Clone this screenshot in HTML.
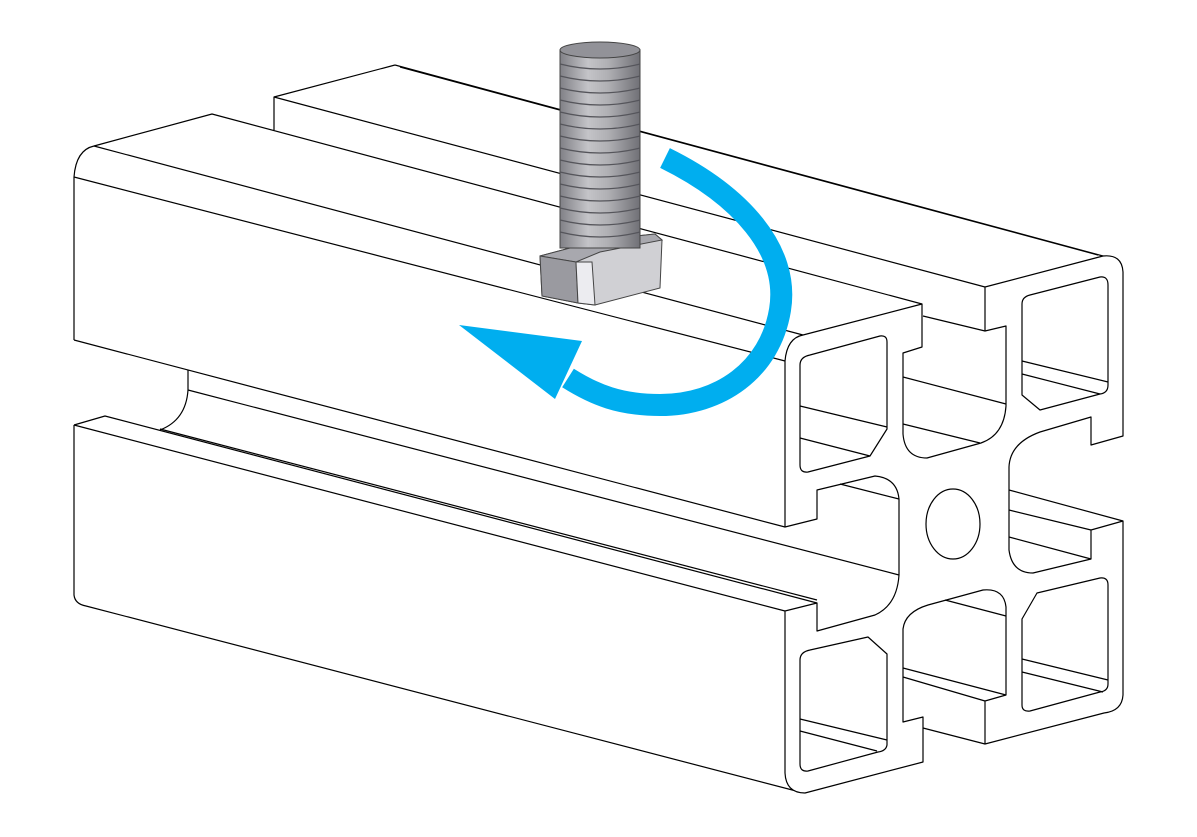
<!DOCTYPE html>
<html><head><meta charset="utf-8"><style>
html,body{margin:0;padding:0;background:#fff;}
svg{display:block;}
</style></head><body>
<svg width="1197" height="837" viewBox="0 0 1197 837" xmlns="http://www.w3.org/2000/svg">
<defs>
<linearGradient id="sh" x1="0" x2="1" y1="0" y2="0">
<stop offset="0" stop-color="#808086"/><stop offset="0.35" stop-color="#c4c4c8"/><stop offset="0.6" stop-color="#b0b0b4"/><stop offset="1" stop-color="#707076"/>
</linearGradient>
</defs>
<g fill="none" stroke="#000" stroke-width="1.2" stroke-linejoin="round">
<path d="M274,130 L274,97 L395,65"/>
<path d="M395,65 L1103,256"/>
<path d="M400,67 L1098,255"/>
<path d="M274,97 L985,287"/>
<path d="M74,340 L74,177 Q76,150 94,146 L212,114 L922,304"/>
<path d="M94,146 L803,335"/>
<path d="M74,177 L785,361"/>
<path d="M74,340 L785,527"/>
<path d="M188,370 L188,390 Q186,420 160,430"/>
<path d="M188,390 L899,575"/>
<path d="M74,425 L105,416 L817,603"/>
<path d="M160,429 L817,600"/>
<path d="M74,425 L785,611"/>
<path d="M74,425 L74,595 Q75,604 86,606 L800,792"/>
<path fill="#fff" d="M785,527 L785,361 Q787,338 803,335 L922,304 L922,347 L903,353 L903,434 Q905,458 927,458 L981,443 Q1004,435 1006,406 L1006,326 L985,331 L985,287 L1103,256 Q1122,254 1123,272 L1123,436 L1091,445 L1091,417 L1040,432 Q1010,443 1009,467 L1009,550 Q1012,573 1033,573 L1091,559 L1091,530 L1123,521 L1123,695 Q1122,711 1104,713 L985,744 L985,701 L1006,695 L1006,607 Q1004,588 983,590 L928,605 Q905,612 903,629 L903,722 L923,717 L923,762 L805,793 Q786,793 785,773 L785,611 L817,603 L817,631 L875,615 Q897,605 899,575 L899,499 Q897,478 875,476 L817,490 L817,519 Z"/>
<path d="M800,365 Q800,357 810,355 L880,336 Q887,335 887,342 L887,429 L870,456 L808,472 Q800,473 800,465 Z"/>
<path d="M1022,304 Q1022,297 1030,295 L1100,277 Q1108,276 1108,285 L1108,385 Q1108,393 1100,394 L1040,410 L1022,395 Z"/>
<path d="M800,660 Q800,652 810,650 L868,637 L887,654 L887,745 Q886,751 878,752 L808,771 Q800,772 800,764 Z"/>
<path d="M1022,619 L1037,593 L1100,578 Q1108,577 1108,585 L1108,684 Q1108,691 1100,692 L1030,711 Q1022,712 1022,705 Z"/>
<ellipse cx="953" cy="524" rx="27" ry="35"/>
<path d="M800,406 L887,427 M800,438 L870,456"/>
<path d="M1022,361 L1108,382 M1022,374 L1100,394"/>
<path d="M800,719 L887,740 M800,731 L877,751"/>
<path d="M1022,659 L1108,680 M1022,672 L1103,692"/>
<path d="M903,377 L1006,404 M903,424 L980,443"/>
<path d="M1009,490 L1123,521 M1009,510 L1091,530 M1009,537 L1091,559"/>
<path d="M840,484 L899,499"/>
<path d="M945,600 L1006,616 M903,668 L1006,695 M903,677 L985,701"/>
<path d="M923,728 L985,744 M923,316 L985,331"/>
</g>
<g stroke="#444" stroke-width="1">
<polygon points="540,256 600,240 655,234 662,240 660,288 595,305 578,303 542,296" fill="#d0d0d4"/>
<polygon points="540,256 600,240 655,234 662,240 600,252 576,262" fill="#a8a8ae"/>
<polygon points="540,256 576,262 578,303 542,296" fill="#9a9aa0"/>
<polygon points="576,262 592,262 595,305 578,303" fill="#ececf0"/>
<rect x="560" y="50" width="80" height="198" fill="url(#sh)"/>
<ellipse cx="600" cy="50" rx="40" ry="8" fill="#929298"/>
</g>
<g fill="none" stroke="#55555b" stroke-width="1.2">
<path d="M560,64 Q600,74 640,64 M560,76 Q600,86 640,76 M560,88 Q600,98 640,88 M560,100 Q600,110 640,100 M560,112 Q600,122 640,112 M560,124 Q600,134 640,124 M560,136 Q600,146 640,136 M560,148 Q600,158 640,148 M560,160 Q600,170 640,160 M560,172 Q600,182 640,172 M560,184 Q600,194 640,184 M560,196 Q600,206 640,196 M560,208 Q600,218 640,208 M560,220 Q600,230 640,220 M560,232 Q600,242 640,232"/>
</g>
<path d="M665,158 C740,195 790,250 780,310 C770,370 720,405 660,405 C620,405 595,395 568,378" fill="none" stroke="#00AEEF" stroke-width="22"/>
<polygon points="459,325 582,341 555,399" fill="#00AEEF"/>
</svg>
</body></html>
